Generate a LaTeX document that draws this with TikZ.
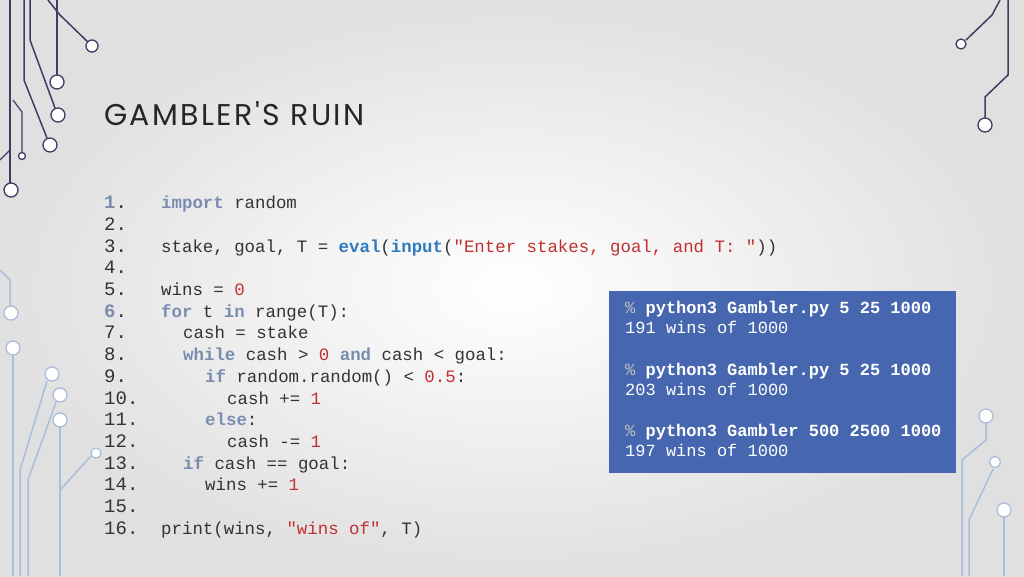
\documentclass[tikz,border=0pt]{standalone}
\usepackage{fontspec}
\setmainfont{Poppins}
\newfontfamily\codefont{Liberation Mono}
\newfontfamily\titlefont[LetterSpace=8]{Poppins}
\usetikzlibrary{positioning}
\definecolor{kw}{RGB}{122,141,176}
\definecolor{bi}{RGB}{47,123,192}
\definecolor{st}{RGB}{192,48,48}
\definecolor{boxblue}{RGB}{70,103,175}
\definecolor{wire}{RGB}{60,62,100}
\definecolor{wirelight}{RGB}{170,190,220}
\newcommand{\kw}[1]{\textbf{\textcolor{kw}{#1}}}
\newcommand{\bi}[1]{\textbf{\textcolor{bi}{#1}}}
\newcommand{\st}[1]{\textcolor{st}{#1}}
\begin{document}
\begin{tikzpicture}[x=1pt, y=-1pt,
    num/.style={anchor=base west, inner sep=0pt, font=\codefont\fontsize{19}{19}\selectfont, text=black!80},
    code/.style={anchor=base west, inner sep=0pt, font=\codefont\fontsize{17.4}{17.4}\selectfont, text=black!80},
    outtxt/.style={anchor=base west, inner sep=0pt, font=\codefont\fontsize{17}{17}\selectfont, text=white},
    pad/.style={draw=wire, fill=white, line width=1.3pt},
    padl/.style={draw=wirelight, fill=white, line width=1.3pt}]
  \shade[inner color=white, outer color=black!12] (0,0) rectangle (1024,576);
  \useasboundingbox (0,0) rectangle (1024,576);
  % circuit wires, top left
  \draw[wire, line width=1.5pt] (48,0) -- (60,15) -- (92,46);
  \draw[wire, line width=1.5pt] (57,0) -- (57,75);
  \draw[wire, line width=1.5pt] (30,0) -- (30,40) -- (55,108);
  \draw[wire, line width=1.5pt] (24,0) -- (24,80) -- (47,138);
  \draw[wire, line width=2.5pt] (10,0) -- (10,183);
  \draw[wire, line width=1.2pt] (13,100) -- (22,112) -- (22,152) (0,160) -- (10,150);
  \foreach \x/\y/\r in {92/46/6, 57/82/7, 58/115/7, 50/145/7, 22/156/3.5, 11/190/7}
    \draw[pad] (\x,\y) circle (\r);
  % bottom left
  \draw[wirelight, line width=1.5pt] (0,270) -- (10,280) -- (10,306);
  \draw[wirelight, line width=2.5pt] (13,355) -- (13,576);
  \draw[wirelight, line width=1.5pt] (47,381) -- (20,470) -- (20,576);
  \draw[wirelight, line width=1.5pt] (56,402) -- (28,480) -- (28,576);
  \draw[wirelight, line width=1.5pt] (60,427) -- (60,576);
  \draw[wirelight, line width=1.5pt] (91,456) -- (60,490);
  \foreach \x/\y/\r in {11/313/7, 13/348/7, 52/374/7, 60/395/7, 60/420/7, 96/453/5}
    \draw[padl] (\x,\y) circle (\r);
  % top right
  \draw[wire, line width=1.5pt] (1000,0) -- (992,15) -- (966,40);
  \draw[wire, line width=1.5pt] (1008,0) -- (1008,75) -- (985,97) -- (985,118);
  \draw[pad] (961,44) circle (5);
  \draw[pad] (985,125) circle (7);
  % bottom right
  \draw[wirelight, line width=1.5pt] (986,423) -- (986,440) -- (962,460) -- (962,576);
  \draw[wirelight, line width=1.5pt] (993,469) -- (969,520) -- (969,576);
  \draw[wirelight, line width=2.5pt] (1004,517) -- (1004,576);
  \foreach \x/\y/\r in {986/416/7, 995/462/5.5, 1004/510/7}
    \draw[padl] (\x,\y) circle (\r);

  \node[anchor=base west, inner sep=0pt, font=\titlefont\fontsize{30}{30}\selectfont, text=black!85] (title) at (104,125) {GAMBLER\char"0027S RUIN};

  % code listing
  \foreach \n/\s/\c [count=\i] in {
      {\textbf{\textcolor{kw}{1}}.}/0/{\kw{import} random},
      2./0/{},
      3./0/{stake, goal, T = \bi{eval}(\bi{input}(\st{"Enter stakes, goal, and T: "}))},
      4./0/{},
      5./0/{wins = \st{0}},
      {\textbf{\textcolor{kw}{6}}.}/0/{\kw{for} t \kw{in} range(T):},
      7./1/{cash = stake},
      8./1/{\kw{while} cash > \st{0} \kw{and} cash < goal:},
      9./2/{\kw{if} random.random() < \st{0.5}:},
      10./3/{cash += \st{1}},
      11./2/{\kw{else}:},
      12./3/{cash -= \st{1}},
      13./1/{\kw{if} cash == goal:},
      14./2/{wins += \st{1}},
      15./0/{},
      16./0/{print(wins, \st{"wins of"}, T)}}{
    \node[num] (n\i) at (104, 187+21.7*\i) {\n};
    \node[code] (c\i) at (161+22*\s, 187+21.7*\i) {\c};
  }

  % output box
  \node[fill=boxblue, minimum width=347pt, minimum height=182pt, anchor=north west] (box) at (609,291) {};
  \node[outtxt] (o1) at (625,313) {\textcolor{black!25}{\%} \textbf{python3 Gambler.py 5 25 1000}};
  \node[outtxt] (o2) at (625,333) {191 wins of 1000};
  \node[outtxt] (o3) at (625,375) {\textcolor{black!25}{\%} \textbf{python3 Gambler.py 5 25 1000}};
  \node[outtxt] (o4) at (625,395) {203 wins of 1000};
  \node[outtxt] (o5) at (625,436) {\textcolor{black!25}{\%} \textbf{python3 Gambler 500 2500 1000}};
  \node[outtxt] (o6) at (625,456) {197 wins of 1000};
\end{tikzpicture}
\end{document}
